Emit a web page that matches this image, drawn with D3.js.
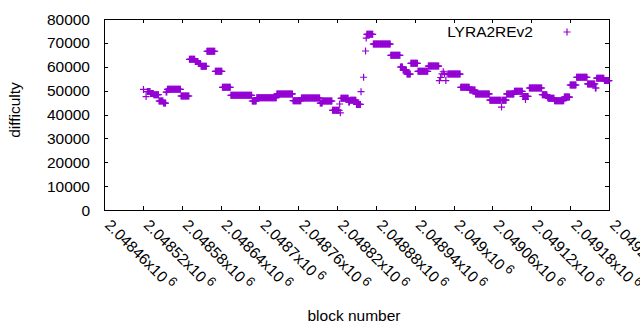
<!DOCTYPE html>
<html>
<head>
<meta charset="utf-8">
<script src="https://cdn.jsdelivr.net/npm/d3@7"></script>
<style>
  html, body { margin: 0; padding: 0; background: #fff; }
  svg { display: block; }
  text { font-family: "Liberation Sans", Arial, sans-serif; fill: #000; }
</style>
</head>
<body>
<svg id="chart" width="640" height="330"></svg>
<script>
// ---- data: runs of consecutive blocks sharing the same difficulty ----
const runStart = [2048521,2048525,2048527,2048532,2048537,2048545,2048552,2048556,2048558,2048579,
  2048592,2048601,2048606,2048610,2048619,2048632,2048643,2048656,2048689,2048696,
  2048727,2048752,2048765,2048794,2048798,2048813,2048824,2048825,2048826,2048838,
  2048840,2048850,2048857,2048861,2048864,2048865,2048866,2048876,2048903,2048918,
  2048922,2048928,2048934,2048945,2048961,2048978,2048980,2048982,2048984,2048986,
  2048988,2048990,2048992,2048993,2049011,2049025,2049034,2049056,2049074,2049075,
  2049082,2049094,2049107,2049111,2049117,2049137,2049145,2049146,2049156,2049171,
  2049180,2049190,2049207,2049219,2049221,2049233];
const runEnd = [2048521,2048525,2048531,2048536,2048544,2048551,2048555,2048557,2048578,2048591,
  2048600,2048605,2048609,2048618,2048631,2048642,2048655,2048688,2048695,2048726,
  2048751,2048764,2048793,2048797,2048812,2048823,2048824,2048825,2048837,2048839,
  2048849,2048856,2048857,2048861,2048864,2048865,2048875,2048902,2048917,2048921,
  2048927,2048933,2048944,2048960,2048977,2048978,2048980,2048982,2048984,2048986,
  2048988,2048990,2048992,2049010,2049024,2049033,2049055,2049073,2049074,2049081,
  2049093,2049106,2049115,2049111,2049136,2049144,2049145,2049155,2049170,2049179,
  2049189,2049206,2049218,2049220,2049232,2049240];
const runDifficulty = [50500,47500,49600,48800,48300,45650,44800,49400,50550,47750,
  63100,62200,61350,60200,66500,58100,51400,48050,45650,47050,
  48600,45800,46900,44800,45650,41750,44400,40700,46800,45200,
  46000,44200,49550,55600,66600,72000,73600,69500,64800,59900,
  58650,56950,61450,58100,60300,54200,55500,57000,57900,57000,
  54200,57000,57000,56950,51400,50250,48600,46000,43100,46000,
  48600,49700,47550,46300,51100,48300,47300,46800,45800,47300,
  52350,55600,52800,51100,55200,54200];

const seriesName = "LYRA2REv2";
const yTicks = [0,10000,20000,30000,40000,50000,60000,70000,80000];
const xTicks = [2048460,2048520,2048580,2048640,2048700,2048760,2048820,2048880,
  2048940,2049000,2049060,2049120,2049180,2049240];
const xLabel = "block number";
const yLabel = "difficulty";

// ---- layout ----
const L = 104, R = 609, T = 19, B = 210;
const color = "#9400d3";
const fs = 15.5;

const svg = d3.select("#chart");
const x = d3.scaleLinear().domain([2048460, 2049240]).range([L, R]);
const y = d3.scaleLinear().domain([0, 80000]).range([B, T]);

// expand runs into per-block points
const points = [];
runStart.forEach((s, i) => {
  for (let b = s; b <= runEnd[i]; b++) points.push({block: b, value: runDifficulty[i]});
});

// axes (ticks inward, mirrored)
const tl = 4;
const axisG = svg.append("g").attr("stroke", "#000").attr("stroke-width", 1).attr("shape-rendering", "crispEdges");
yTicks.forEach(v => {
  const yy = Math.round(y(v)) + 0.5;
  axisG.append("line").attr("x1", L).attr("x2", L + tl).attr("y1", yy).attr("y2", yy);
  axisG.append("line").attr("x1", R - tl).attr("x2", R).attr("y1", yy).attr("y2", yy);
});
xTicks.forEach(v => {
  const xx = Math.round(x(v)) + 0.5;
  axisG.append("line").attr("x1", xx).attr("x2", xx).attr("y1", B).attr("y2", B - tl);
  axisG.append("line").attr("x1", xx).attr("x2", xx).attr("y1", T).attr("y2", T + tl);
});
axisG.append("rect").attr("x", L + 0.5).attr("y", T + 0.5).attr("width", R - L).attr("height", B - T)
  .attr("fill", "none");

// y tick labels
svg.append("g").selectAll("text").data(yTicks).join("text")
  .attr("x", 90).attr("y", d => y(d)).attr("dy", "0.36em")
  .attr("text-anchor", "end").attr("font-size", fs).text(d => d);

// x tick labels (rotated)
const fmt = v => parseFloat((v / 1e6).toPrecision(6)).toString();
const xl = svg.append("g").selectAll("g").data(xTicks).join("g")
  .attr("transform", d => `translate(${x(d)},${226}) rotate(45)`);
const xt = xl.append("text").attr("font-size", fs).attr("x", 0).attr("y", 0);
xt.append("tspan").text(d => fmt(d) + "x10");
xt.append("tspan").attr("dx", 3).attr("dy", -5).attr("font-size", fs * 0.85).text("6");

// axis titles
svg.append("text").attr("transform", "translate(20,110) rotate(-90)")
  .attr("text-anchor", "middle").attr("font-size", fs).text(yLabel);
svg.append("text").attr("x", 354).attr("y", 321)
  .attr("text-anchor", "middle").attr("font-size", fs).text(xLabel);

// points
const plus = "M-3.5,0H3.5M0,-3.5V3.5";
svg.append("g").selectAll("path").data(points).join("path")
  .attr("transform", d => `translate(${x(d.block)},${y(d.value)})`)
  .attr("d", plus).attr("fill", "none").attr("stroke", color).attr("stroke-width", 1.2);

// legend
svg.append("text").attr("x", 533).attr("y", 37).attr("text-anchor", "end")
  .attr("font-size", fs).text(seriesName);
svg.append("path").attr("transform", "translate(567,32)").attr("d", plus)
  .attr("fill", "none").attr("stroke", color).attr("stroke-width", 1.2);
</script>
</body>
</html>
